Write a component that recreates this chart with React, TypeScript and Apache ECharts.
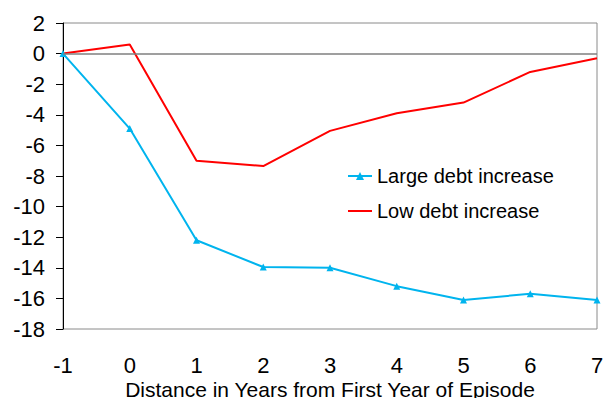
import React, { useEffect, useRef } from "react";
import * as echarts from "echarts";

const years = [-1, 0, 1, 2, 3, 4, 5, 6, 7];
const largeDebt = [0, -4.9, -12.2, -13.95, -14.0, -15.2, -16.1, -15.7, -16.1];
const lowDebt = [0, 0.6, -7.0, -7.35, -5.05, -3.9, -3.2, -1.2, -0.3];

const FONT = "'Liberation Sans', Arial, sans-serif";

export default function App() {
  const ref = useRef<HTMLDivElement>(null);
  useEffect(() => {
    if (!ref.current) return;
    const chart = echarts.init(ref.current, undefined, { renderer: "svg" });
    chart.setOption({
      animation: false,
      backgroundColor: "#ffffff",
      textStyle: { fontFamily: FONT },
      grid: {
        left: 63,
        right: 8,
        top: 23,
        bottom: 69,
        show: true,
        borderColor: "#8a8a8a",
        borderWidth: 1,
        containLabel: false,
        outerBoundsMode: "none",
      },
      legend: {
        orient: "vertical",
        left: 347,
        top: 166,
        padding: 0,
        itemGap: 15,
        itemWidth: 24,
        itemHeight: 10,
        textStyle: { fontSize: 20, color: "#000", fontFamily: FONT },
        data: [
          { name: "Large debt increase" },
          { name: "Low debt increase", icon: "path://M0,4 L24,4 L24,6 L0,6 Z" },
        ],
      },
      xAxis: {
        type: "value",
        min: -1,
        max: 7,
        interval: 1,
        axisLine: { show: false },
        axisTick: { show: false },
        splitLine: { show: false },
        axisLabel: { fontSize: 22, color: "#000", margin: 25, fontFamily: FONT },
        name: "Distance in Years from First Year of Episode",
        nameLocation: "middle",
        nameGap: 50,
        nameMoveOverlap: false,
        nameTextStyle: { fontSize: 21, color: "#000", fontFamily: FONT },
      },
      yAxis: {
        type: "value",
        min: -18,
        max: 2,
        interval: 2,
        axisLine: { show: true, onZero: false, lineStyle: { color: "#000", width: 1 } },
        axisTick: { show: true, inside: false, length: 7, lineStyle: { color: "#000" } },
        splitLine: { show: false },
        axisLabel: { fontSize: 22, color: "#000", margin: 18, fontFamily: FONT },
      },
      series: [
        {
          name: "Large debt increase",
          type: "line",
          data: years.map((x, i) => [x, largeDebt[i]]),
          symbol: "triangle",
          symbolSize: 7,
          showAllSymbol: true,
          itemStyle: { color: "#00B4EE" },
          lineStyle: { color: "#00B4EE", width: 2 },
          z: 3,
          markLine: {
            silent: true,
            symbol: "none",
            label: { show: false },
            lineStyle: { color: "#7f7f7f", width: 1.5, type: "solid" },
            data: [{ yAxis: 0 }],
          },
        },
        {
          name: "Low debt increase",
          type: "line",
          data: years.map((x, i) => [x, lowDebt[i]]),
          symbol: "none",
          itemStyle: { color: "#FF0000" },
          lineStyle: { color: "#FF0000", width: 2 },
          z: 2,
        },
      ],
    });
    return () => chart.dispose();
  }, []);
  return <div ref={ref} style={{ width: 605, height: 398, position: "absolute", left: 0, top: 0 }} />;
}
